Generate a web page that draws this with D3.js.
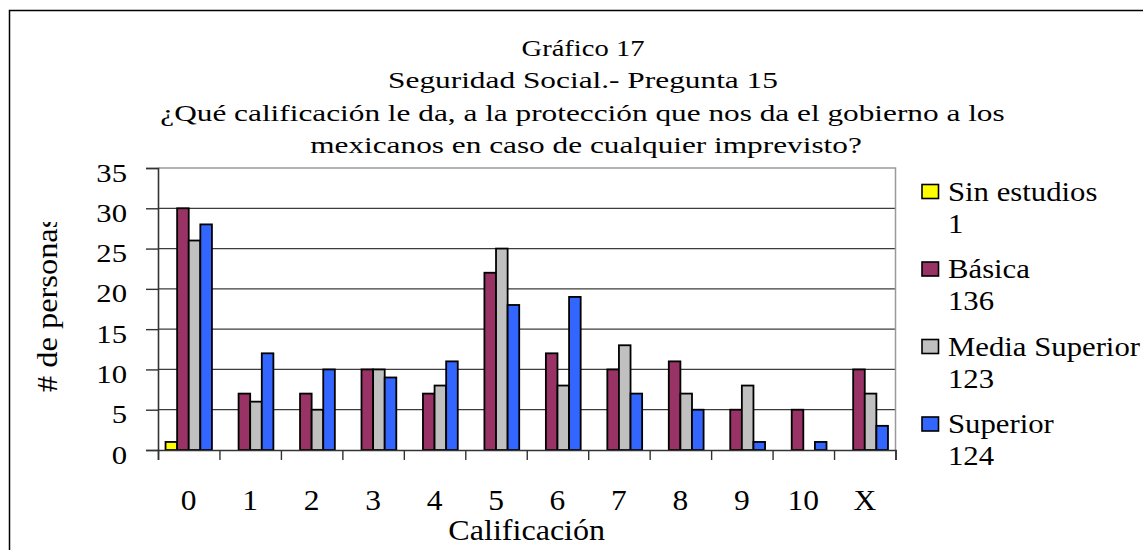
<!DOCTYPE html>
<html><head><meta charset="utf-8">
<script src="https://cdn.jsdelivr.net/npm/d3@7"></script>
<style>
body{margin:0;background:#fff}
svg{display:block}
svg text{font-family:"Liberation Serif","Times New Roman",serif;fill:#000}
</style>
</head><body>
<svg id="c" width="1143" height="550"></svg>
<script>
// ---------- data ----------
const categories = ["0","1","2","3","4","5","6","7","8","9","10","X"];
const seriesNames = ["Sin estudios","Básica","Media Superior","Superior"];
const seriesTotals = ["1","136","123","124"];
const sinEstudios   = [1,0,0,0,0,0,0,0,0,0,0,0];
const basica        = [30,7,7,10,7,22,12,10,11,5,5,10];
const mediaSuperior = [26,6,5,10,8,25,8,13,7,8,0,7];
const superior      = [28,12,10,9,11,18,19,7,5,1,1,3];
const yTicks = [0,5,10,15,20,25,30,35];
const titleLines = ["Gráfico 17","Seguridad Social.- Pregunta 15",
  "¿Qué calificación le da, a la protección que nos da el gobierno a los",
  "mexicanos en caso de cualquier imprevisto?"];
const xTitle = "Calificación";
const yTitle = "# de personas";

// ---------- style / layout ----------
const FONT = '"Liberation Serif", "Times New Roman", serif';
const colors = ["#FFFF00","#993366","#C0C0C0","#3366FF"];
const plot = {left:158, right:895.5, top:168, bottom:450};
const titleWidths = [123, 390, 845, 552];

const svg = d3.select("#c");
const series = [sinEstudios, basica, mediaSuperior, superior];

// horizontal stretch via transform (keeps anchor position)
function scaleX(sel, kf){
  sel.each(function(d,i){
    const t = d3.select(this);
    const k = typeof kf === "function" ? kf.call(this,d,i) : kf;
    const x = +t.attr("x") || 0;
    const base = t.attr("transform") || "";
    t.attr("x", x/k).attr("transform", (base ? base + " " : "") + `scale(${k},1)`);
  });
}

// outer frame
svg.append("rect").attr("x",9.5).attr("y",10.5).attr("width",1200).attr("height",600)
  .attr("fill","none").attr("stroke","#000").attr("stroke-width",1.5);

// title
const tb = [56, 88.5, 121, 153.5];
const tcx = [583, 583, 582.5, 586];
const tt = svg.selectAll("text.title").data(titleLines).join("text")
  .attr("class","title")
  .attr("x",(d,i)=>tcx[i]).attr("y",(d,i)=>tb[i])
  .attr("text-anchor","middle").style("font-family",FONT).style("font-size","24px")
  .text(d=>d);
scaleX(tt, function(d,i){ return titleWidths[i]/this.getComputedTextLength(); });

// scales
const y = d3.scaleLinear().domain([0,35]).range([plot.bottom, plot.top]);
const x0 = d3.scaleBand().domain(categories).range([plot.left, plot.right])
  .paddingInner(0.245).paddingOuter(0.1225);
const x1 = d3.scaleBand().domain(seriesNames).range([0, x0.bandwidth()]);
const xb = d3.scaleLinear().domain([0, categories.length]).range([plot.left, plot.right]);

// grid lines
svg.append("g").selectAll("line").data(yTicks.filter(t=>t>0 && t<35)).join("line")
  .attr("x1",plot.left).attr("x2",plot.right)
  .attr("y1",d=>y(d)).attr("y2",d=>y(d))
  .attr("stroke","#3c3c3c").attr("stroke-width",1.2);
// plot area border (top/right)
svg.append("path")
  .attr("d",`M${plot.left},${y(35)}H${plot.right}V${plot.bottom}`)
  .attr("fill","none").attr("stroke","#9a9a9a").attr("stroke-width",1.5);

// bars
const groups = svg.append("g").selectAll("g").data(categories).join("g")
  .attr("transform",d=>`translate(${x0(d)},0)`);
groups.selectAll("rect")
  .data((c,ci)=>seriesNames.map((s,si)=>({s, si, v:series[si][ci]})).filter(d=>d.v>0))
  .join("rect")
  .attr("x",d=>x1(d.s)).attr("width",x1.bandwidth())
  .attr("y",d=>y(d.v)).attr("height",d=>y(0)-y(d.v))
  .attr("fill",d=>colors[d.si]).attr("stroke","#000").attr("stroke-width",1.8);

// y axis
const yAxis = svg.append("g").attr("transform",`translate(${plot.left},0)`)
  .call(d3.axisLeft(y).tickValues(yTicks).tickSize(12).tickPadding(19).tickFormat(d3.format("d")));
yAxis.attr("font-family",null).attr("font-size",null);
yAxis.select(".domain").attr("stroke","#333").attr("stroke-width",1.6);
yAxis.selectAll(".tick line").attr("stroke","#333").attr("stroke-width",1.4);
const ytx = yAxis.selectAll(".tick text").attr("dy",null).attr("y",13)
  .style("font-size","26px").style("font-family",FONT).attr("fill","#000");
scaleX(ytx, 1.18);

// x axis (ticks at category boundaries)
const xAxis = svg.append("g").attr("transform",`translate(0,${plot.bottom})`)
  .call(d3.axisBottom(xb).tickValues(d3.range(categories.length+1)).tickSize(10).tickFormat(""));
xAxis.select(".domain").attr("stroke","#333").attr("stroke-width",1.6);
xAxis.selectAll(".tick line").attr("stroke","#333").attr("stroke-width",1.4);

// x category labels
const xl = svg.append("g").selectAll("text").data(categories).join("text")
  .attr("x",d=>x0(d)+x0.bandwidth()/2).attr("y",510)
  .attr("text-anchor","middle").style("font-family",FONT).style("font-size","30px").text(d=>d);
scaleX(xl, 1.05);

// axis titles
const xt = svg.append("text").attr("x",(plot.left+plot.right)/2).attr("y",540)
  .attr("text-anchor","middle").style("font-family",FONT).style("font-size","30px").text(xTitle);
scaleX(xt, 1.07);

svg.append("clipPath").attr("id","yclip").append("rect")
  .attr("x",0).attr("y",222).attr("width",150).attr("height",300);
const yt = svg.append("g").attr("clip-path","url(#yclip)").append("text")
  .attr("transform","translate(57,392) rotate(-90)")
  .attr("text-anchor","start").style("font-family",FONT).style("font-size","30px").text(yTitle);
scaleX(yt, 1.08);

// legend
const legTop = [184.5, 262, 339.5, 417];
const leg = svg.append("g").selectAll("g").data(seriesNames).join("g")
  .attr("transform",(d,i)=>`translate(0,${legTop[i]})`);
leg.append("rect").attr("x",922).attr("y",0).attr("width",16.5).attr("height",14)
  .attr("fill",(d,i)=>colors[i]).attr("stroke","#000").attr("stroke-width",1.6);
const l1 = leg.append("text").attr("x",948).attr("y",16)
  .style("font-family",FONT).style("font-size","26.5px").text(d=>d);
const l2 = leg.append("text").attr("x",948).attr("y",48.5)
  .style("font-family",FONT).style("font-size","26.5px").text((d,i)=>seriesTotals[i]);
scaleX(l1, 1.16);
scaleX(l2, 1.16);
</script>
</body></html>
